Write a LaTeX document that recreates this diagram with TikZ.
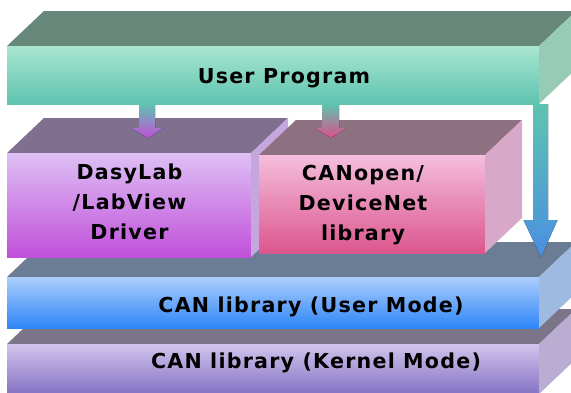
\documentclass[tikz,border=0pt]{standalone}
\usepackage{fontspec}
\newfontfamily\lblfont{DejaVu Sans}[LetterSpace=6]
\usetikzlibrary{calc}
\definecolor{upTop}{HTML}{66877A}
\definecolor{upFT}{HTML}{A9E6D0}
\definecolor{upFB}{HTML}{5EC3AF}
\definecolor{upSide}{HTML}{97CBB5}
\definecolor{dlTop}{HTML}{80708F}
\definecolor{dlFT}{HTML}{DEC0F5}
\definecolor{dlFB}{HTML}{C150DA}
\definecolor{dlSide}{HTML}{C6A6DF}
\definecolor{coTop}{HTML}{8E7181}
\definecolor{coFT}{HTML}{F4BEDC}
\definecolor{coFB}{HTML}{DC568E}
\definecolor{coSide}{HTML}{D8A8C8}
\definecolor{cuTop}{HTML}{6B7D95}
\definecolor{cuFT}{HTML}{ACCDFC}
\definecolor{cuFB}{HTML}{2E86F8}
\definecolor{cuSide}{HTML}{9EBAE0}
\definecolor{ckTop}{HTML}{7C7489}
\definecolor{ckFT}{HTML}{D0C4EC}
\definecolor{ckFB}{HTML}{8573C4}
\definecolor{ckSide}{HTML}{BAADD2}
\definecolor{arrTop}{HTML}{5EC3AF}
\definecolor{arrMag}{HTML}{C24FD9}
\definecolor{arrPink}{HTML}{DC4F8C}
\definecolor{arrBlue}{HTML}{4A8FE3}
\tikzset{
  lbl/.style={font=\lblfont\bfseries\fontsize{20.6}{30}\selectfont, text=black, inner sep=0pt, align=center},
}
% cuboid: front x1,y1,x2,y2 ; top colour, front top, front bottom, side colour
\newcommand\cuboid[8]{%
  \fill[#5] (#1,#2) -- ++(37,-35) -- (#3+37,#2-35) -- (#3,#2) -- cycle;
  \fill[top color=#6,bottom color=#7] (#1,#2) rectangle (#3,#4);
  \fill[#8] (#3,#2) -- ++(37,-35) -- (#3+37,#4-35) -- (#3,#4) -- cycle;
}
% block arrow: start, tip, stem half width, head half width, head length, colour
\newcommand\blockarrow[6]{%
  \fill[top color=arrTop, bottom color=#6] let \p1=(#1), \p2=(#2) in
    (\x1-#3pt,\y1) -- (\x1+#3pt,\y1) -- (\x1+#3pt,\y2+#5pt) -- (\x1+#4pt,\y2+#5pt)
    -- (\x2,\y2) -- (\x1-#4pt,\y2+#5pt) -- (\x1-#3pt,\y2+#5pt) -- cycle;
}
\begin{document}
\begin{tikzpicture}[x=1pt,y=-1pt]
  \clip (0,0) rectangle (571,392);
  \fill[white] (0,0) rectangle (571,392);
  % kernel mode layer
  \cuboid{7}{344}{539}{394}{ckTop}{ckFT}{ckFB}{ckSide}
  % user mode layer
  \cuboid{7}{277}{539}{328}{cuTop}{cuFT}{cuFB}{cuSide}
  % right arrow
  \coordinate (a3s) at (540.5,104);
  \coordinate (a3e) at (541,257);
  \blockarrow{a3s}{a3e}{7.5}{17}{37}{arrBlue}
  % DasyLab block
  \cuboid{7}{153}{251}{257}{dlTop}{dlFT}{dlFB}{dlSide}
  % CANopen block
  \cuboid{259}{155}{485}{253}{coTop}{coFT}{coFB}{coSide}
  % user program
  \cuboid{7}{46}{539}{104}{upTop}{upFT}{upFB}{upSide}
  % arrows
  \coordinate (a1s) at (147,104);
  \coordinate (a1e) at (148,138);
  \coordinate (a2s) at (330.5,104);
  \coordinate (a2e) at (331,138);
  \blockarrow{a1s}{a1e}{8}{16}{10}{arrMag}
  \blockarrow{a2s}{a2e}{8.5}{16}{10}{arrPink}
  % labels
  \node[lbl, anchor=base] (up) at (284,83) {User Program};
  \node[lbl, anchor=base] (dl) at (129.5,239) {DasyLab\\/LabView\\Driver};
  \node[lbl, anchor=base] (co) at (363,240) {CANopen/\\DeviceNet\\library};
  \node[lbl, anchor=base] (cu) at (311,312) {CAN library (User Mode)};
  \node[lbl, anchor=base] (ck) at (316,368) {CAN library (Kernel Mode)};
\end{tikzpicture}
\end{document}
